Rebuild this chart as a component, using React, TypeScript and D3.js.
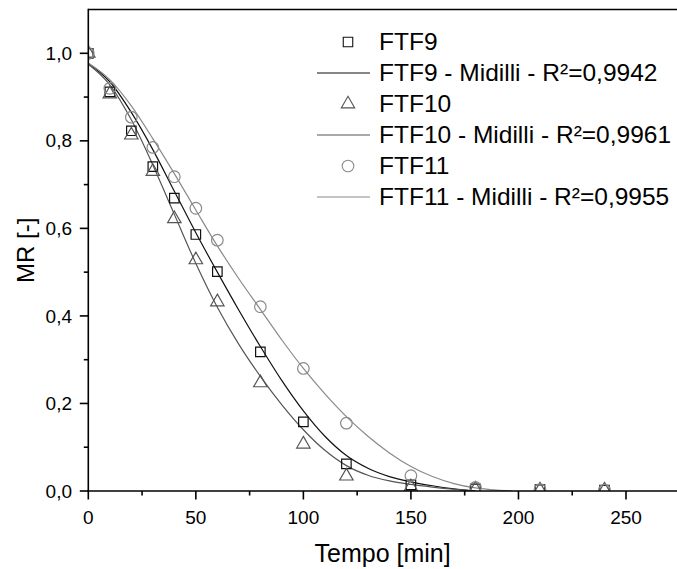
import React from 'react';
import * as d3 from 'd3';

// Measured data (Tempo [min] vs MR [-])
const times = [0, 10, 20, 30, 40, 50, 60, 80, 100, 120, 150, 180, 210, 240];
const ftf9 = [1.0, 0.912, 0.823, 0.741, 0.669, 0.586, 0.501, 0.318, 0.158, 0.062, 0.014, 0.005, 0.003, 0.002];
const ftf10 = [1.0, 0.907, 0.813, 0.730, 0.622, 0.528, 0.432, 0.247, 0.107, 0.034, 0.009, 0.004, 0.002, 0.002];
const ftf11 = [1.0, 0.920, 0.854, 0.785, 0.718, 0.646, 0.573, 0.421, 0.280, 0.155, 0.035, 0.008, 0.003, 0.002];

// Midilli fitted curves
const fitTimes = [0, 10, 20, 30, 40, 50, 60, 70, 80, 90, 100, 110, 120, 130, 140, 150, 160, 170, 180];
const fit9 = [0.977, 0.935, 0.865, 0.78, 0.685, 0.59, 0.5, 0.413, 0.33, 0.252, 0.183, 0.125, 0.081, 0.052, 0.033, 0.021, 0.012, 0.005, 0.0];
const fit10 = [0.975, 0.928, 0.848, 0.745, 0.632, 0.52, 0.42, 0.335, 0.262, 0.197, 0.14, 0.093, 0.058, 0.036, 0.023, 0.015, 0.009, 0.004, 0.0];
const fitTimes11 = [0, 10, 20, 30, 40, 50, 60, 70, 80, 90, 100, 110, 120, 130, 140, 150, 160, 170, 180, 190, 197];
const fit11 = [0.978, 0.94, 0.88, 0.805, 0.725, 0.642, 0.56, 0.485, 0.415, 0.345, 0.28, 0.222, 0.17, 0.125, 0.087, 0.056, 0.033, 0.017, 0.007, 0.002, 0.0];

const xMajorTicks = [0, 50, 100, 150, 200, 250];
const xMinorTicks = [25, 75, 125, 175, 225];
const yMajorTicks = [0, 0.2, 0.4, 0.6, 0.8, 1.0];
const yMinorTicks = [0.1, 0.3, 0.5, 0.7, 0.9];

const legendLabels = [
  'FTF9',
  'FTF9 - Midilli - R²=0,9942',
  'FTF10',
  'FTF10 - Midilli - R²=0,9961',
  'FTF11',
  'FTF11 - Midilli - R²=0,9955',
];

const W = 677;
const H = 569;
const left = 88.3;
const right = 677;
const top = 9.5;
const bottom = 491;
const FONT = '"Liberation Sans", Arial, sans-serif';

const c9 = '#111';
const c10 = '#555';
const c11 = '#8a8a8a';

export default function App() {
  const x = d3.scaleLinear().domain([0, 250]).range([left, 626]);
  const y = d3.scaleLinear().domain([0, 1.0]).range([bottom, 53.3]);

  const line = d3
    .line<[number, number]>()
    .x((d) => x(d[0]))
    .y((d) => y(d[1]))
    .curve(d3.curveMonotoneX);

  const sq = d3.symbol().type(d3.symbolSquare).size(90)()!;
  const tri = d3.symbol().type(d3.symbolTriangle).size(78)()!;
  const circ = d3.symbol().type(d3.symbolCircle).size(105)()!;

  const series = [
    { vals: ftf9, path: sq, color: c9 },
    { vals: ftf10, path: tri, color: c10 },
    { vals: ftf11, path: circ, color: c11 },
  ];
  const fits = [
    { t: fitTimes, v: fit9, color: c9 },
    { t: fitTimes, v: fit10, color: c10 },
    { t: fitTimes11, v: fit11, color: c11 },
  ];

  const legendBase = [50, 81, 112, 143, 174, 205];
  const legendItems = [
    { kind: 'sym', path: sq, color: c9 },
    { kind: 'line', color: c9 },
    { kind: 'sym', path: tri, color: c10 },
    { kind: 'line', color: c10 },
    { kind: 'sym', path: circ, color: c11 },
    { kind: 'line', color: c11 },
  ];

  return (
    <svg
      width={W}
      height={H}
      style={{ position: 'fixed', left: 0, top: 0, background: '#fff' }}
      fontFamily={FONT}
    >
      <defs>
        <clipPath id="plotclip">
          <rect x={left} y={top} width={right - left} height={bottom - top} />
        </clipPath>
      </defs>
      <rect x={0} y={0} width={W} height={H} fill="#fff" />

      <g clipPath="url(#plotclip)">
        {fits.map((f, i) => (
          <path
            key={'fit' + i}
            d={line(f.t.map((t, j) => [t, f.v[j]] as [number, number]))!}
            fill="none"
            stroke={f.color}
            strokeWidth={1.2}
          />
        ))}
        {series.map((s, i) =>
          s.vals.map((v, j) => (
            <path
              key={'m' + i + '-' + j}
              d={s.path}
              transform={`translate(${x(times[j])},${y(v)})`}
              fill="none"
              stroke={s.color}
              strokeWidth={1.2}
            />
          ))
        )}
      </g>

      {/* frame */}
      <line x1={left} x2={right} y1={top} y2={top} stroke="#000" strokeWidth={1.6} />
      <line x1={left} x2={left} y1={top - 0.8} y2={bottom + 0.8} stroke="#000" strokeWidth={1.6} />
      <line x1={left - 0.8} x2={right} y1={bottom} y2={bottom} stroke="#000" strokeWidth={1.6} />

      {/* x ticks */}
      {xMajorTicks.map((t) => (
        <g key={'xt' + t}>
          <line x1={x(t)} x2={x(t)} y1={bottom} y2={bottom + 8.5} stroke="#000" strokeWidth={1.6} />
          <text x={x(t)} y={524} textAnchor="middle" fontSize={19} fill="#000">
            {String(t)}
          </text>
        </g>
      ))}
      {xMinorTicks.map((t) => (
        <line key={'xm' + t} x1={x(t)} x2={x(t)} y1={bottom} y2={bottom + 4.5} stroke="#000" strokeWidth={1.6} />
      ))}

      {/* y ticks */}
      {yMajorTicks.map((t) => (
        <g key={'yt' + t}>
          <line x1={left - 8.5} x2={left} y1={y(t)} y2={y(t)} stroke="#000" strokeWidth={1.6} />
          <text x={72} y={y(t) + 6.6} textAnchor="end" fontSize={19} fill="#000">
            {t.toFixed(1).replace('.', ',')}
          </text>
        </g>
      ))}
      {yMinorTicks.map((t) => (
        <line key={'ym' + t} x1={left - 4.5} x2={left} y1={y(t)} y2={y(t)} stroke="#000" strokeWidth={1.6} />
      ))}

      {/* axis titles */}
      <text x={(left + right) / 2} y={562} textAnchor="middle" fontSize={25} fill="#000">
        Tempo [min]
      </text>
      <text
        transform={`translate(34,${(top + bottom) / 2}) rotate(-90)`}
        textAnchor="middle"
        fontSize={24}
        fill="#000"
      >
        MR [-]
      </text>

      {/* legend */}
      {legendItems.map((it, i) => {
        const cy = legendBase[i] - 8;
        return (
          <g key={'lg' + i}>
            {it.kind === 'sym' ? (
              <path
                d={it.path}
                transform={`translate(348,${cy})`}
                fill="none"
                stroke={it.color}
                strokeWidth={1.1}
              />
            ) : (
              <line x1={317} x2={370} y1={cy} y2={cy} stroke={it.color} strokeWidth={1.1} />
            )}
            <text x={379} y={legendBase[i]} fontSize={24.5} fill="#000">
              {legendLabels[i]}
            </text>
          </g>
        );
      })}
    </svg>
  );
}
